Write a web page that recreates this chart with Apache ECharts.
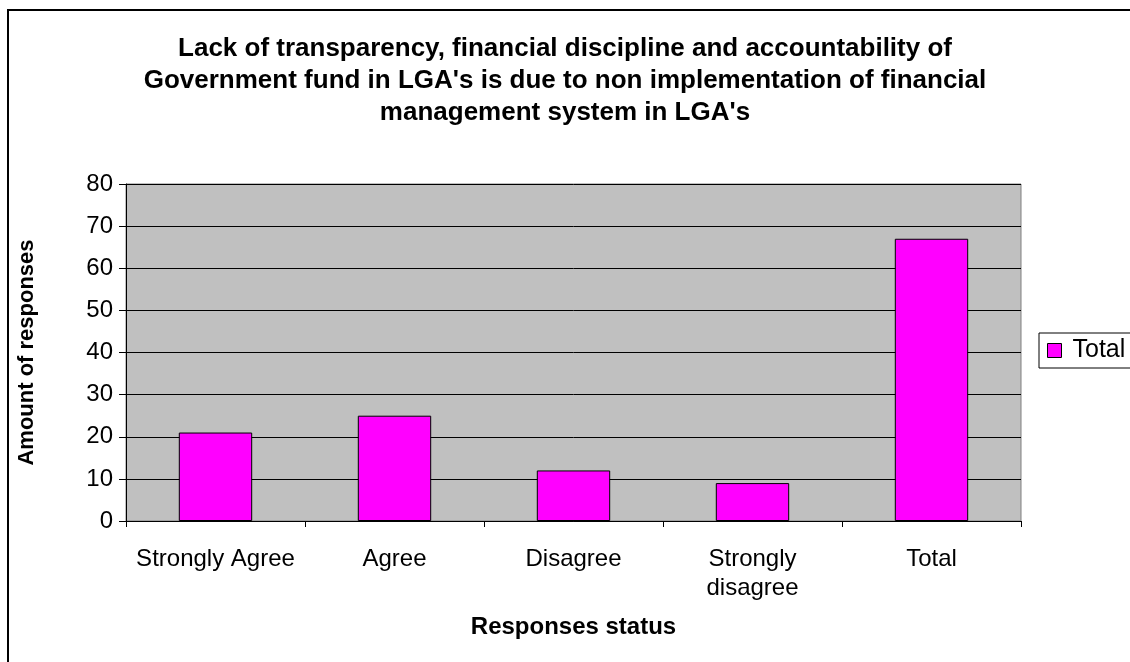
<!DOCTYPE html>
<html>
<head>
<meta charset="utf-8">
<script src="https://cdn.jsdelivr.net/npm/echarts@6/dist/echarts.min.js"></script>
<style>
html,body{margin:0;padding:0;background:#fff;}
#chart{width:1130px;height:662px;}
</style>
</head>
<body>
<div id="chart"></div>
<script>
const titleText = "Lack of transparency, financial discipline and accountability of\nGovernment fund in LGA's is due to non implementation of financial\nmanagement system in LGA's";
const categories = ['Strongly Agree', 'Agree', 'Disagree', 'Strongly disagree', 'Total'];
const totalValues = [21, 25, 12, 9, 67];
const seriesName = 'Total';
const yAxisName = 'Amount of responses';
const xAxisName = 'Responses status';

const chart = echarts.init(document.getElementById('chart'), null, {renderer: 'canvas'});
const font = 'Arial, "Liberation Sans", sans-serif';
chart.setOption({
  animation: false,
  backgroundColor: '#ffffff',
  title: {
    text: titleText,
    left: 560,
    textAlign: 'center',
    top: 28,
    textStyle: {fontFamily: font, fontSize: 26, fontWeight: 'bold', color: '#000', lineHeight: 32}
  },
  grid: {
    left: 126, right: 109, top: 184, bottom: 141,
    show: true, backgroundColor: '#c0c0c0', borderColor: '#808080', borderWidth: 1
  },
  legend: {
    data: [seriesName],
    left: 1039, top: 333,
    orient: 'vertical',
    icon: 'rect',
    itemWidth: 14, itemHeight: 14,
    itemGap: 0,
    padding: [5, 30, 5, 8],
    borderColor: '#000', borderWidth: 1,
    backgroundColor: '#fff',
    textStyle: {fontFamily: font, fontSize: 25, color: '#000', padding: [0, 0, 0, 6]},
    itemStyle: {borderColor: '#000', borderWidth: 1}
  },
  xAxis: {
    type: 'category',
    data: categories,
    name: xAxisName,
    nameLocation: 'middle',
    nameGap: 94,
    nameTextStyle: {fontFamily: font, fontSize: 24, fontWeight: 'bold', color: '#000'},
    axisLine: {show: true, lineStyle: {color: '#000', width: 1}},
    axisTick: {show: true, alignWithLabel: false, length: 6, lineStyle: {color: '#000'}},
    axisLabel: {
      fontFamily: font, fontSize: 24, color: '#000', margin: 24, lineHeight: 29, interval: 0,
      formatter: v => v === 'Strongly disagree' ? 'Strongly\ndisagree' : v
    }
  },
  yAxis: {
    type: 'value',
    min: 0, max: 80, interval: 10,
    name: yAxisName,
    nameLocation: 'middle',
    nameGap: 88,
    nameTextStyle: {fontFamily: font, fontSize: 22, fontWeight: 'bold', color: '#000'},
    axisLine: {show: true, lineStyle: {color: '#000', width: 1}},
    axisTick: {show: true, length: 7, lineStyle: {color: '#000'}},
    axisLabel: {fontFamily: font, fontSize: 24, color: '#000', margin: 13},
    splitLine: {show: true, lineStyle: {color: '#000', width: 1}}
  },
  series: [{
    name: seriesName,
    type: 'bar',
    data: totalValues,
    barWidth: '41%',
    itemStyle: {color: '#ff00ff', borderColor: '#000', borderWidth: 1}
  }],
  graphic: [{
    type: 'rect',
    shape: {x: 8, y: 10, width: 1200, height: 700},
    style: {fill: null, stroke: '#000', lineWidth: 2},
    silent: true,
    z: 100
  }]
});
</script>
</body>
</html>
